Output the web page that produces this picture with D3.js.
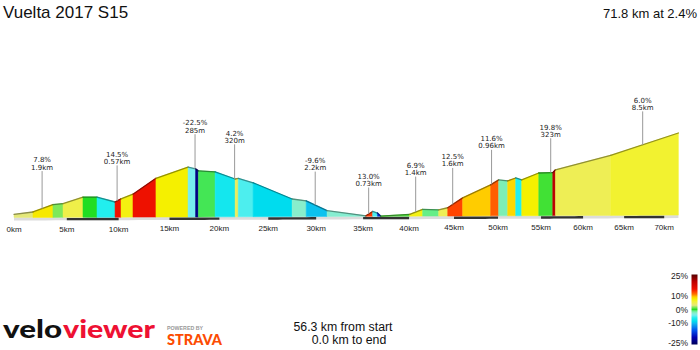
<!DOCTYPE html>
<html><head><meta charset="utf-8">
<script src="https://cdn.jsdelivr.net/npm/d3@7/dist/d3.min.js"></script>
<style>body{margin:0;background:#fff}svg{display:block}</style>
</head><body>
<svg id="c" width="700" height="350"></svg>
<script>
// ---------- DATA ----------
const kmPoints = [0, 1.79, 3.68, 4.64, 6.55, 7.90, 9.65, 10.23, 11.40, 13.66, 16.85, 17.60, 17.885, 19.57,
  21.60, 21.92, 23.44, 27.48, 28.95, 31.15, 35.30, 36.03, 36.55, 36.90, 40.07, 41.50, 43.28, 44.29,
  45.97, 49.15, 50.07, 51.11, 52.04, 52.74, 54.73, 56.38, 56.70, 63.35, 71.80];
const elevations = [733, 783, 945, 965, 1105, 1105, 1000, 1070, 1170, 1515, 1760, 1722, 1678, 1655,
  1500, 1513, 1418, 1065, 1025, 812, 700, 795, 760, 695, 730, 840, 830, 875,
  1090, 1372, 1480, 1458, 1522, 1480, 1630, 1638, 1700, 2015, 2500];
const gradients = [3, 7.8, 1.5, 5, 0, -6, 14.5, 7, 14.5, 7.5, -4, -22.5, -0.5, -7,
  4.2, -5, -8.5, -2.5, -9.6, -2.7, 13, -5, -17, 0.8, 6.9, -1, 4.5,
  12.5, 9, 11.6, -2, 8.5, -6, 7.5, 0.5, 19.8, 4.5, 6.0];
const tickKm = [0, 5, 10, 15, 20, 25, 30, 35, 40, 45, 50, 55, 60, 65, 70];
const tickLabels = tickKm.map(k => k + "km");
const annKm = [2.65, 9.85, 17.55, 21.55, 29.9, 35.6, 40.73, 44.85, 49.26, 56.14, 67.3];
const annGrade = ["7.8%", "14.5%", "-22.5%", "4.2%", "-9.6%", "13.0%", "6.9%", "12.5%", "11.6%", "19.8%", "6.0%"];
const annLength = ["1.9km", "0.57km", "285m", "320m", "2.2km", "0.73km", "1.4km", "1.6km", "0.96km", "323m", "8.5km"];
const legendTicks = [25, 10, 0, -10, -25];
const gradeStops = [-25, -20, -15, -10, -8.5, -6, -4, -2.5, -1, 0, 1.5, 3, 4.5, 6, 7.5, 9, 11, 12.5, 14.5, 20, 25];
const gradeColors = ["#000058", "#0000b0", "#0050ee", "#11b8ee", "#00dcee", "#22eeee", "#77eeee", "#88eecc",
  "#66ee88", "#22dd22", "#7ee85a", "#e4e87a", "#eeee55", "#f2f230", "#f5f000", "#ffcc00", "#ff7000",
  "#ff4400", "#ee1100", "#bb0000", "#550000"];
const title = "Vuelta 2017 S15";
const summary = "71.8 km at 2.4%";
const footer1 = "56.3 km from start";
const footer2 = "0.0 km to end";

// ---------- LAYOUT ----------
const svg = d3.select("#c");
const totalKm = 71.8;
// perspective-compressed distance scale
const xDomain = d3.range(0, 72, 1).concat([totalKm]);
const x = d3.scaleLinear().domain(xDomain).range(xDomain.map(d => 14 + 10.66 * d - 0.01959 * d * d));
const y = d3.scaleLinear().domain([600, 2500]).range([220.4, 133]);
const yBase = d3.scaleLinear().domain([0, totalKm]).range([217.5, 215.1]);
const color = d3.scaleLinear().domain(gradeStops).range(gradeColors).interpolate(d3.interpolateRgb).clamp(true);
const elevAt = d3.scaleLinear().domain(kmPoints).range(elevations);

// Title texts
svg.append("text").attr("x", 3).attr("y", 18.3).text(title)
  .attr("font-family", "Liberation Sans, Arial, sans-serif").attr("font-size", 17).attr("fill", "#111");
svg.append("text").attr("x", 697).attr("y", 18.3).attr("text-anchor", "end").text(summary)
  .attr("font-family", "Liberation Sans, Arial, sans-serif").attr("font-size", 13).attr("fill", "#111");

// Ground strip
const strip = d3.area().x(d => x(d)).y0(d => yBase(d) + 3).y1(d => yBase(d));
svg.append("path").attr("d", strip(d3.range(0, 71, 1).concat([totalKm]))).attr("fill", "#dcdcdc");
const barStarts = tickKm.filter((k, i) => i % 2 === 1);
const barArea = d3.area().x(d => x(d)).y0(d => yBase(d) + 3).y1(d => yBase(d) + 0.6);
svg.selectAll("path.bar").data(barStarts).enter().append("path").attr("class", "bar")
  .attr("d", k => barArea(d3.range(k, Math.min(k + 5, totalKm) + 0.001, 0.5)))
  .attr("fill", "#333");

// Profile segments
const segs = gradients.map((g, i) => ({
  d0: kmPoints[i], d1: kmPoints[i + 1], e0: elevations[i], e1: elevations[i + 1], g
}));
const poly = s => [[x(s.d0), yBase(s.d0)], [x(s.d0), y(s.e0)], [x(s.d1), y(s.e1)], [x(s.d1), yBase(s.d1)]];
svg.selectAll("path.seg").data(segs).enter().append("path").attr("class", "seg")
  .attr("d", s => "M" + poly(s).join("L") + "Z")
  .attr("fill", s => color(s.g)).attr("stroke", s => color(s.g)).attr("stroke-width", 0.5);
svg.selectAll("line.top").data(segs).enter().append("line").attr("class", "top")
  .attr("x1", s => x(s.d0)).attr("y1", s => y(s.e0)).attr("x2", s => x(s.d1)).attr("y2", s => y(s.e1))
  .attr("stroke", s => d3.color(color(s.g)).darker(1.4)).attr("stroke-width", 1.3).attr("stroke-linecap", "round");

// Tick labels
svg.selectAll("text.tick").data(tickKm).enter().append("text").attr("class", "tick")
  .attr("x", k => x(k)).attr("y", k => yBase(k) + 14.5).attr("text-anchor", "middle")
  .text((k, i) => tickLabels[i])
  .attr("font-family", "Liberation Sans, Arial, sans-serif").attr("font-size", 8).attr("fill", "#222");

// Annotations
const labelLift = [39, 37, 36, 36, 35, 28, 37, 38, 36, 36, 35];
annKm.forEach((k, i) => {
  const top = y(elevAt(k));
  const b2 = top - labelLift[i];
  svg.append("line").attr("x1", x(k)).attr("x2", x(k)).attr("y1", b2 + 1.5).attr("y2", top)
    .attr("stroke", "#999").attr("stroke-width", 1);
  const t = svg.append("text").attr("text-anchor", "middle")
    .attr("font-family", "DejaVu Sans, Verdana, sans-serif").attr("font-size", 7).attr("fill", "#222");
  t.append("tspan").attr("x", x(k)).attr("y", b2 - 7.2).text(annGrade[i]);
  t.append("tspan").attr("x", x(k)).attr("y", b2).text(annLength[i]);
});

// Legend
const lg = d3.scaleLinear().domain([25, -25]).range([276, 343]);
const defs = svg.append("defs");
const grad = defs.append("linearGradient").attr("id", "lg").attr("x1", 0).attr("y1", 0).attr("x2", 0).attr("y2", 1);
d3.range(25, -25.01, -0.5).forEach(v => {
  grad.append("stop").attr("offset", (25 - v) / 50).attr("stop-color", color(v));
});
svg.append("rect").attr("x", 691.5).attr("y", lg(25) - 1.5).attr("width", 6).attr("height", lg(-25) - lg(25) + 3)
  .attr("fill", "url(#lg)");
svg.selectAll("text.lg").data(legendTicks).enter().append("text").attr("class", "lg")
  .attr("x", 688).attr("y", v => lg(v) + 3).attr("text-anchor", "end").text(v => v + "%")
  .attr("font-family", "Liberation Sans, Arial, sans-serif").attr("font-size", 8.5).attr("fill", "#222");

// Footer
svg.append("text").attr("x", 343).attr("y", 330.5).attr("text-anchor", "middle").text(footer1)
  .attr("font-family", "Liberation Sans, Arial, sans-serif").attr("font-size", 12.3).attr("fill", "#111");
svg.append("text").attr("x", 349).attr("y", 344).attr("text-anchor", "middle").text(footer2)
  .attr("font-family", "Liberation Sans, Arial, sans-serif").attr("font-size", 12.3).attr("fill", "#111");

// Logos
svg.append("text").attr("x", 3).attr("y", 337.5).text("velo").attr("textLength", 59).attr("lengthAdjust", "spacingAndGlyphs")
  .attr("font-family", "Lato, sans-serif").attr("font-weight", 900).attr("font-size", 25).attr("fill", "#111");
svg.append("text").attr("x", 63).attr("y", 337.5).text("viewer").attr("textLength", 92).attr("lengthAdjust", "spacingAndGlyphs")
  .attr("font-family", "Lato, sans-serif").attr("font-weight", 900).attr("font-size", 25).attr("fill", "#ee1133");
svg.append("text").attr("x", 167).attr("y", 329.5).text("POWERED BY").attr("textLength", 36).attr("lengthAdjust", "spacingAndGlyphs")
  .attr("font-family", "Liberation Sans, Arial, sans-serif").attr("font-weight", 700).attr("font-size", 5).attr("fill", "#999");
svg.append("text").attr("x", 167).attr("y", 345).text("STRAVA").attr("textLength", 55).attr("lengthAdjust", "spacingAndGlyphs")
  .attr("font-family", "Lato, sans-serif").attr("font-weight", 900).attr("font-size", 15.5).attr("fill", "#fc4c02");
</script>
</body></html>
